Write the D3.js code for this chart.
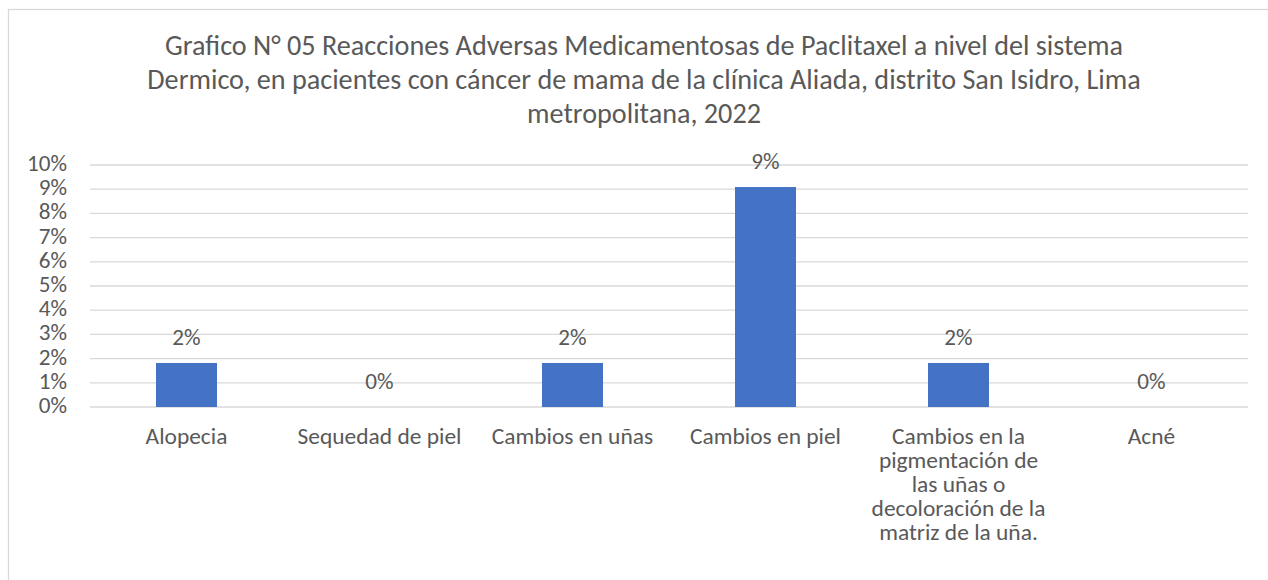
<!DOCTYPE html>
<html>
<head>
<meta charset="utf-8">
<script src="https://cdn.jsdelivr.net/npm/d3@7"></script>
<style>
body { margin: 0; background: #fff; }
text { font-family: Carlito, Calibri, Lato, sans-serif; fill: #595959; }
</style>
</head>
<body>
<script>
var width = 1268
var height = 580

// data
var title_lines = ["Grafico N° 05 Reacciones Adversas Medicamentosas de Paclitaxel a nivel del sistema",
    "Dermico, en pacientes con cáncer de mama de la clínica Aliada, distrito San Isidro, Lima",
    "metropolitana, 2022"]
var categories = ["Alopecia", "Sequedad de piel", "Cambios en uñas", "Cambios en piel",
    "Cambios en la\npigmentación de\nlas uñas o\ndecoloración de la\nmatriz de la uña.", "Acné"]
var values = [0.0182, 0, 0.0182, 0.0909, 0.0182, 0]
var y_ticks = [0, 0.01, 0.02, 0.03, 0.04, 0.05, 0.06, 0.07, 0.08, 0.09, 0.10]

var plot_left = 90, plot_right = 1248, plot_top = 165, plot_bottom = 407

var x = d3.scaleBand()
.domain(categories)
.range([plot_left, plot_right])

var y = d3.scaleLinear()
.domain([0, 0.10])
.range([plot_bottom, plot_top])

var pct = d3.format(".0%")

var svg = d3.select("body").append("svg")
.attr("width", width)
.attr("height", height)
.style("display", "block")

// chart border
svg.append("rect")
.attr("x", 8.5).attr("y", 9.5)
.attr("width", 1300).attr("height", 620)
.attr("fill", "none")
.attr("stroke", "#d9d9d9")
.attr("stroke-width", 1.3)

// fit a font size so that a sample string gets the target width
function fit_size(sample, target, base) {
    var t = svg.append("text").style("font-size", base + "px").text(sample)
    var w = t.node().getComputedTextLength()
    t.remove()
    return base * target / w
}

var title_size = fit_size(title_lines[0], 959, 24)
var label_size = fit_size("Sequedad de piel", 164, 18)
var tick_size = fit_size("10%", 40, 18)

svg.append("g")
.selectAll("text")
.data(title_lines)
.enter().append("text")
.attr("x", 644)
.attr("y", function(d, i) { return 55 + i * 34 })
.style("text-anchor", "middle")
.style("font-size", title_size + "px")
.text(function(d) { return d })

// grid lines
svg.append("g")
.selectAll("line")
.data(y_ticks)
.enter().append("line")
.attr("x1", plot_left).attr("x2", plot_right)
.attr("y1", function(d) { return y(d) })
.attr("y2", function(d) { return y(d) })
.attr("stroke", "#d9d9d9")
.attr("stroke-width", 1.3)

// y axis labels
svg.append("g")
.selectAll("text")
.data(y_ticks)
.enter().append("text")
.attr("x", 67)
.attr("y", function(d) { return y(d) + 6 })
.style("text-anchor", "end")
.style("font-size", tick_size + "px")
.text(function(d) { return pct(d) })

// bars
var bar_w = 61
svg.append("g")
.selectAll("rect")
.data(values)
.enter().append("rect")
.attr("x", function(d, i) { return x(categories[i]) + x.bandwidth() / 2 - bar_w / 2 })
.attr("y", function(d) { return y(d) })
.attr("width", bar_w)
.attr("height", function(d) { return plot_bottom - y(d) })
.attr("fill", "#4472c4")

// data labels
svg.append("g")
.selectAll("text")
.data(values)
.enter().append("text")
.attr("x", function(d, i) { return x(categories[i]) + x.bandwidth() / 2 })
.attr("y", function(d) { return y(d) - 18 })
.style("text-anchor", "middle")
.style("font-size", tick_size + "px")
.text(function(d) { return pct(d) })

// category labels, one text per wrapped line
var cat_lines = []
categories.forEach(function(c) {
    c.split("\n").forEach(function(line, i) {
        cat_lines.push({ cat: c, line: line, row: i })
    })
})

svg.append("g")
.selectAll("text")
.data(cat_lines)
.enter().append("text")
.attr("x", function(d) { return x(d.cat) + x.bandwidth() / 2 })
.attr("y", function(d) { return 444 + d.row * 24 })
.style("text-anchor", "middle")
.style("font-size", label_size + "px")
.text(function(d) { return d.line })
</script>
</body>
</html>
